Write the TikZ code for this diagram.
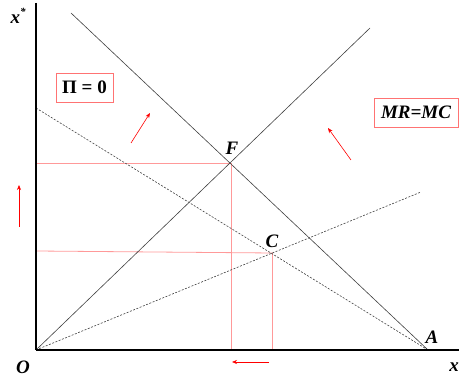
\documentclass[tikz,border=0pt]{standalone}
\usepackage{fontspec}
\setmainfont{Liberation Serif}
\usetikzlibrary{arrows.meta}
\begin{document}
\begin{tikzpicture}[x=1pt,y=-1pt,
  lbl/.style={font=\fontsize{19}{19}\selectfont\bfseries\itshape, inner sep=0pt},
  solidline/.style={line width=0.6pt, black!75},
  dashline/.style={line width=0.6pt, black!75, dash pattern=on 2pt off 1.5pt},
  guide/.style={line width=0.8pt, red!40},
  arr/.style={red, line width=0.6pt, -{Stealth[length=5pt,width=4pt]}},
  boxed/.style={draw=red!55, line width=0.8pt, inner sep=0pt, minimum height=29pt}]
\useasboundingbox (0,0) rectangle (459,379);
% key points
\coordinate (O) at (36,350);
\coordinate (Xend) at (459,350);
\coordinate (Ytop) at (36,3);
\coordinate (A) at (428,350);
\coordinate (S1) at (71,13);
\coordinate (S2) at (370,28);
\coordinate (D1) at (36,108);
\coordinate (D2) at (421,192);
\coordinate (F) at (231.5,163.5);
\coordinate (C) at (272.5,253);
\coordinate (FY) at (36,163.5);
\coordinate (FX) at (231.5,350);
\coordinate (CY) at (36,251);
\coordinate (CX) at (272.5,350);
% guides
\draw[guide] (FY) -- (F) -- (FX);
\draw[guide] (CY) -- (C) -- (CX);
% curves
\draw[solidline] (S1) -- (A);
\draw[solidline] (O) -- (S2);
\draw[dashline] (D1) -- (A);
\draw[dashline] (O) -- (D2);
% axes
\draw[line width=1.5pt] (Ytop) -- (O);
\draw[line width=2pt] (O) -- (Xend);
% labels
\node[lbl] (lxs) at (18,16) {x\raisebox{0.45em}{\fontsize{11}{11}\selectfont *}};
\node[lbl] (lO) at (23,367) {O};
\node[lbl] (lx) at (454,367) {x};
\node[lbl] (lA) at (432,337) {A};
\node[lbl] (lF) at (232,148) {F};
\node[lbl] (lC) at (272,241) {C};
% boxes
\node[boxed, minimum width=57pt, font=\fontsize{19}{19}\selectfont\bfseries] (pi) at (84.5,87.5) {Π = 0};
\node[boxed, minimum width=84pt, font=\fontsize{19}{19}\selectfont\bfseries\itshape] (mrmc) at (416,112.5) {MR=MC};
% arrows
\coordinate (a1s) at (19,227); \coordinate (a1e) at (19,185);
\coordinate (a2s) at (131,143); \coordinate (a2e) at (150,113);
\coordinate (a3s) at (351,160); \coordinate (a3e) at (328,128);
\coordinate (a4s) at (269,362); \coordinate (a4e) at (232,362);
\draw[arr] (a1s) -- (a1e);
\draw[arr] (a2s) -- (a2e);
\draw[arr] (a3s) -- (a3e);
\draw[arr] (a4s) -- (a4e);
\end{tikzpicture}
\end{document}
